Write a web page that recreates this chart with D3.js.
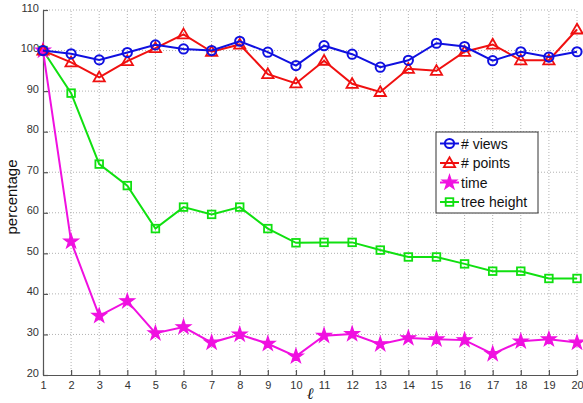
<!DOCTYPE html>
<html>
<head>
<meta charset="utf-8">
<script src="https://cdn.jsdelivr.net/npm/d3@7"></script>
<style>
  body { margin: 0; background: #fff; }
  svg { font-family: "Liberation Sans", Arial, sans-serif; }
</style>
</head>
<body>
<div id="chart"></div>
<script>
// data
var levels = d3.range(1, 21);
var views = [100, 99.2, 97.7, 99.5, 101.4, 100.4, 100, 102.3, 99.6, 96.3, 101.2, 99.1, 95.9, 97.6, 101.8, 101, 97.5, 99.7, 98.4, 99.7];
var points = [100, 97.1, 93.4, 97.4, 100.6, 104, 99.7, 101.5, 94.2, 91.9, 97.5, 91.8, 89.8, 95.5, 95, 99.7, 101.5, 97.6, 97.6, 105.2];
var time = [100, 52.9, 34.6, 38.2, 30.3, 31.8, 28.0, 30.0, 27.7, 24.6, 29.7, 30.1, 27.6, 29.1, 28.8, 28.6, 25.2, 28.3, 28.8, 28.0];
var treeHeight = [100, 89.5, 72, 66.7, 56.1, 61.4, 59.6, 61.4, 56.1, 52.6, 52.7, 52.7, 50.8, 49.1, 49.1, 47.4, 45.6, 45.6, 43.8, 43.8];
var yTicks = d3.range(20, 111, 10);

var series = [
  {name: "# views", values: views, color: "#1010e0", marker: "circle"},
  {name: "# points", values: points, color: "#f01010", marker: "triangle"},
  {name: "time", values: time, color: "#f010e0", marker: "star"},
  {name: "tree height", values: treeHeight, color: "#10e010", marker: "square"}
];

var width = 583, height = 403;
var margin = {top: 10, right: 6, bottom: 28, left: 43};

var svg = d3.select("#chart").append("svg")
    .attr("width", width)
    .attr("height", height);

var x = d3.scaleLinear().domain([1, 20]).range([margin.left, width - margin.right]);
var y = d3.scaleLinear().domain([20, 110]).range([height - margin.bottom, margin.top]);

// grid
var grid = svg.append("g")
    .attr("stroke", "#a8a8a8")
    .attr("stroke-width", 0.9)
    .attr("stroke-dasharray", "1,2");
grid.selectAll(".gx").data(levels.slice(1)).join("line")
    .attr("x1", d => x(d)).attr("x2", d => x(d))
    .attr("y1", y(20)).attr("y2", y(110));
grid.selectAll(".gy").data(yTicks.slice(1)).join("line")
    .attr("x1", x(1)).attr("x2", x(20))
    .attr("y1", d => y(d)).attr("y2", d => y(d));

// axes
var xAxis = svg.append("g")
    .attr("transform", "translate(0," + y(20) + ")")
    .call(d3.axisBottom(x).tickValues(levels).tickFormat(d3.format("d")).tickSizeInner(-5).tickSizeOuter(0).tickPadding(4));
var yAxis = svg.append("g")
    .attr("transform", "translate(" + x(1) + ",0)")
    .call(d3.axisLeft(y).tickValues(yTicks).tickSizeInner(-5).tickSizeOuter(0).tickPadding(4));

[xAxis, yAxis].forEach(function(a) {
  a.select(".domain").attr("stroke", "#555").attr("stroke-width", 1.2);
  a.selectAll(".tick line").attr("stroke", "#555").attr("stroke-width", 1.2);
  a.selectAll(".tick text").attr("fill", "#333").style("font-size", "11px");
});
xAxis.selectAll(".tick text").attr("dy", "0.9em");
yAxis.selectAll(".tick text").attr("dy", "0.1em");

// lines
var line = d3.line().x((d, i) => x(levels[i])).y(d => y(d));

var starSym = d3.symbol().type(d3.symbolStar).size(65);
var triSym = d3.symbol().type(d3.symbolTriangle).size(55);

function drawMarker(g, s, cx, cy) {
  if (s.marker == "circle") {
    g.append("circle").attr("cx", cx).attr("cy", cy).attr("r", 4.6)
      .attr("fill", "none").attr("stroke", s.color).attr("stroke-width", 2);
  } else if (s.marker == "triangle") {
    g.append("path").attr("d", triSym()).attr("transform", "translate(" + cx + "," + (cy + 0.8) + ")")
      .attr("fill", "none").attr("stroke", s.color).attr("stroke-width", 1.8);
  } else if (s.marker == "star") {
    g.append("path").attr("d", starSym()).attr("transform", "translate(" + cx + "," + cy + ")")
      .attr("fill", s.color).attr("stroke", s.color).attr("stroke-width", 1.2);
  } else {
    g.append("rect").attr("x", cx - 3.8).attr("y", cy - 3.8).attr("width", 7.6).attr("height", 7.6)
      .attr("fill", "none").attr("stroke", s.color).attr("stroke-width", 1.8);
  }
}

// draw tree height first so views/points sit on top like the original
var order = [3, 2, 1, 0];
order.forEach(function(k) {
  var s = series[k];
  var g = svg.append("g");
  g.append("path").datum(s.values)
    .attr("d", line)
    .attr("fill", "none")
    .attr("stroke", s.color)
    .attr("stroke-width", 2);
  s.values.forEach(function(v, i) {
    drawMarker(g, s, x(levels[i]), y(v));
  });
});

// legend
var legend = svg.append("g").attr("transform", "translate(436,132)");
legend.append("rect")
  .attr("width", 102).attr("height", 81)
  .attr("fill", "#fff").attr("stroke", "#333").attr("stroke-width", 1);
series.forEach(function(s, i) {
  var ly = 11.5 + i * 19.5;
  var lg = legend.append("g");
  lg.append("line").attr("x1", 4).attr("x2", 23).attr("y1", ly).attr("y2", ly)
    .attr("stroke", s.color).attr("stroke-width", 2);
  drawMarker(lg, s, 13.5, ly);
  lg.append("text").attr("x", 25).attr("y", ly).attr("dy", "0.36em")
    .attr("fill", "#111").style("font-size", "14px").text(s.name);
});

// labels
svg.append("text")
  .attr("transform", "translate(17," + 197 + ") rotate(-90)")
  .attr("text-anchor", "middle")
  .attr("fill", "#111")
  .style("font-size", "15px")
  .text("percentage");

svg.append("text")
  .attr("x", x(10.5)).attr("y", 399)
  .attr("text-anchor", "middle")
  .attr("fill", "#111")
  .style("font-family", "'DejaVu Serif', serif")
  .style("font-style", "italic")
  .style("font-size", "16px")
  .text("ℓ");
</script>
</body>
</html>
